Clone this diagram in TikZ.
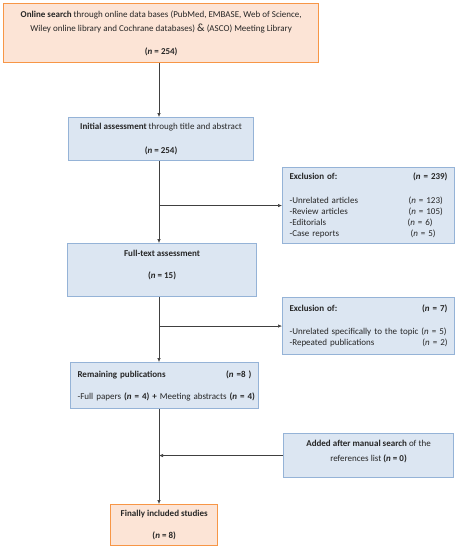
\documentclass[tikz,border=0pt]{standalone}
\usepackage{fontspec}
\setmainfont{Carlito}
\usepackage{tikz}
\usetikzlibrary{arrows.meta,positioning,calc}
\usepackage{xcolor}
\definecolor{searchfill}{HTML}{FCE4D6}
\definecolor{searchline}{HTML}{F79646}
\definecolor{stepfill}{HTML}{DCE6F2}
\definecolor{stepline}{HTML}{95B3D7}
\definecolor{ink}{HTML}{262626}

\begin{document}
\begin{tikzpicture}[x=1pt,y=-1pt,
  font=\fontsize{9}{11}\selectfont, text=ink,
  orangebox/.style={draw=searchline,fill=searchfill,line width=1.4pt,anchor=north west,inner xsep=9pt,inner ysep=0pt},
  bluebox/.style={draw=stepline,fill=stepfill,line width=1.1pt,anchor=north west,inner xsep=7pt,inner ysep=0pt},
  flow/.style={draw=black!75,line width=0.6pt,-{Latex[length=4pt,width=3.5pt]}}]
  \useasboundingbox (0,0) rectangle (459,550);

  % Main column
  \node[orangebox,minimum width=315pt,minimum height=59pt,align=center] (search) at (3,3)
    {\textbf{Online search} through online data bases (PubMed, EMBASE, Web of Science,\\[3pt]
     Wiley online library and Cochrane databases) {\fontsize{11}{11}\selectfont\&} (ASCO) Meeting Library\\[12pt]
     \textbf{(\textit{n} = 254)}};
  \node[bluebox,minimum width=185pt,minimum height=43pt,align=center] (initial) at (68,117)
    {\textbf{Initial assessment} through title and abstract\\[13pt]\textbf{(\textit{n} = 254)}};
  \node[bluebox,minimum width=189pt,minimum height=53pt,align=center] (fulltext) at (67,243)
    {\textbf{Full-text assessment}\\[11pt]\textbf{(\textit{n} = 15)}\\[0pt]\mbox{}};
  \node[bluebox,minimum width=188pt,minimum height=46pt,text width=174pt,align=left] (remain) at (70,362)
    {\textbf{Remaining publications}\hfill\textbf{(\textit{n} =8 )}\\[11pt]
     \mbox{-Full papers \textbf{(\textit{n} = 4) +} Meeting abstracts \textbf{(\textit{n} = 4)}}};
  \node[orangebox,minimum width=107pt,minimum height=41pt,align=center] (final) at (110,504)
    {\textbf{Finally included studies}\\[11pt]\textbf{(\textit{n} = 8)}};

  % Side boxes
  \node[bluebox,minimum width=172pt,minimum height=76pt,text width=158pt,align=left] (excl1) at (282,167)
    {\textbf{Exclusion of:}\hfill\textbf{(\textit{n} = 239)}\\[13pt]
     \makebox[119pt][l]{-Unrelated articles}(\textit{n} = 123)\\
     \makebox[119pt][l]{-Review articles}(\textit{n} = 105)\\
     \makebox[118pt][l]{-Editorials}(\textit{n} = 6)\\
     \makebox[121pt][l]{-Case reports}(\textit{n} = 5)};
  \node[bluebox,minimum width=172pt,minimum height=57pt,text width=158pt,align=left] (excl2) at (282,297)
    {\textbf{Exclusion of:}\hfill\textbf{(\textit{n} = 7)}\\[12pt]
     \mbox{-Unrelated specifically to the topic (\textit{n} = 5)}\\
     -Repeated publications\hfill(\textit{n} = 2)};
  \node[bluebox,minimum width=170pt,minimum height=44pt,align=center] (added) at (283,433)
    {\textbf{Added after manual search} of the\\[4pt]references list \textbf{(\textit{n} = 0)}\\[-2pt]\mbox{}};

  % Connectors
  \coordinate (spine) at (159,0);
  \draw[flow] (spine |- search.south) -- (spine |- initial.north);
  \draw[flow] (spine |- initial.south) -- (spine |- fulltext.north);
  \draw[flow] (spine |- excl1.west) -- (excl1.west);
  \draw[flow] (spine |- fulltext.south) -- (spine |- remain.north);
  \draw[flow] (spine |- excl2.west) -- (excl2.west);
  \draw[flow] (spine |- remain.south) -- (spine |- final.north);
  \draw[flow] (added.west) -- (spine |- added.west);
\end{tikzpicture}
\end{document}
